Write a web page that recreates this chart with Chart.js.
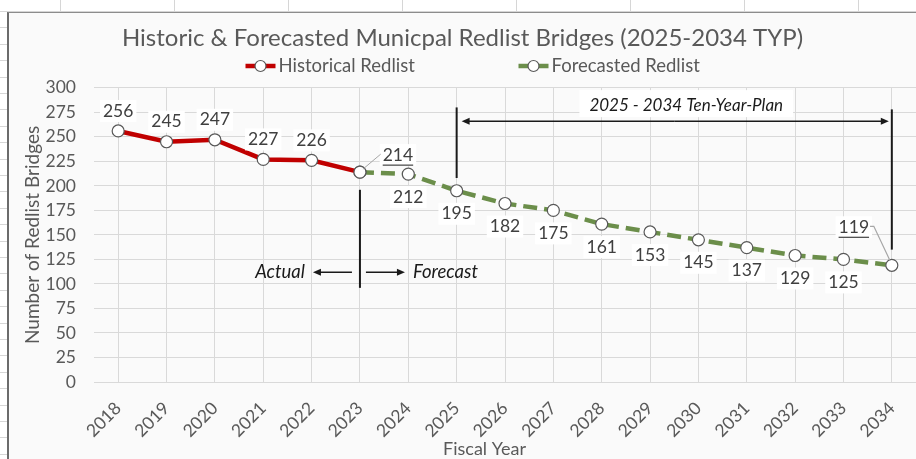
<!DOCTYPE html>
<html>
<head>
<meta charset="utf-8">
<script src="https://cdn.jsdelivr.net/npm/chart.js@4.4.1/dist/chart.umd.min.js"></script>
<style>
  body {
    margin: 0; width: 916px; height: 459px; overflow: hidden; position: relative;
    background-color: #fff;
    background-image:
      repeating-linear-gradient(to right, transparent 0 60px, #d6d6d6 60px 61px, transparent 61px 114px),
      repeating-linear-gradient(to bottom, transparent 0 11px, #d6d6d6 11px 12px, transparent 12px 16.4px);
  }
  #frame {
    position: absolute; left: 7px; top: 12px; width: 909px; height: 447px;
    background: #fafafa; border-left: 2px solid #6b6b6b; border-top: 1px solid #8c8c8c;
    box-sizing: border-box;
  }
</style>
</head>
<body>
<div id="frame"><canvas id="myChart" width="907" height="446"></canvas></div>
<script>
// chart data
var years = ['2018','2019','2020','2021','2022','2023','2024','2025','2026','2027','2028','2029','2030','2031','2032','2033','2034'];
var historical = [256, 245, 247, 227, 226, 214];           // 2018 - 2023
var forecasted = [214, 212, 195, 182, 175, 161, 153, 145, 137, 129, 125, 119]; // 2023 - 2034
var yTicks = [0, 25, 50, 75, 100, 125, 150, 175, 200, 225, 250, 275, 300];

var FONT = 'Lato';
var RED = '#c00000';
var GREEN = '#6b8e4a';

// pad the series out to the full year list
var histData = years.map(function (y, i) { return i < historical.length ? historical[i] : null; });
var foreStart = years.indexOf('2023');
var foreData = years.map(function (y, i) { return i >= foreStart ? forecasted[i - foreStart] : null; });

function drawLabel(ctx, text, cx, cy, underline) {
    ctx.font = '17.5px ' + FONT;
    var w = ctx.measureText(text).width;
    ctx.fillStyle = '#ffffff';
    ctx.fillRect(cx - w / 2 - 3, cy - 11, w + 6, 22);
    ctx.fillStyle = '#404040';
    ctx.textAlign = 'center';
    ctx.textBaseline = 'middle';
    ctx.fillText(text, cx, cy);
    if (underline) {
        ctx.strokeStyle = '#404040';
        ctx.lineWidth = 1.2;
        ctx.beginPath();
        ctx.moveTo(cx - w / 2, cy + 10);
        ctx.lineTo(cx + w / 2, cy + 10);
        ctx.stroke();
    }
    return w;
}

function arrow(ctx, x1, y, x2) {
    var dir = x2 > x1 ? 1 : -1;
    ctx.lineWidth = 1.5;
    ctx.beginPath();
    ctx.moveTo(x1, y);
    ctx.lineTo(x2 - dir * 6, y);
    ctx.stroke();
    ctx.beginPath();
    ctx.moveTo(x2, y);
    ctx.lineTo(x2 - dir * 8, y - 3.5);
    ctx.lineTo(x2 - dir * 8, y + 3.5);
    ctx.closePath();
    ctx.fill();
}

function vline(ctx, x, y1, y2) {
    ctx.lineWidth = 2;
    ctx.beginPath();
    ctx.moveTo(x, y1);
    ctx.lineTo(x, y2);
    ctx.stroke();
}

var overlay = {
    id: 'overlay',
    afterDraw: function (chart) {
        var ctx = chart.ctx;
        var sx = chart.scales.x, sy = chart.scales.y;
        var px = function (i) { return sx.getPixelForValue(i); };
        var py = function (v) { return sy.getPixelForValue(v); };
        ctx.save();

        // legend (line + marker)
        var cx = chart.width / 2;
        var legend = [[cx - 217, RED, 'Historical Redlist'], [cx + 56, GREEN, 'Forecasted Redlist']];
        legend.forEach(function (l) {
            ctx.strokeStyle = l[1];
            ctx.lineWidth = 4.5;
            ctx.beginPath();
            ctx.moveTo(l[0], 53);
            ctx.lineTo(l[0] + 30, 53);
            ctx.stroke();
            ctx.fillStyle = '#fff';
            ctx.strokeStyle = '#595959';
            ctx.lineWidth = 1.2;
            ctx.beginPath();
            ctx.arc(l[0] + 15, 53, 5.5, 0, Math.PI * 2);
            ctx.fill();
            ctx.stroke();
            ctx.fillStyle = '#595959';
            ctx.font = '18.5px ' + FONT;
            ctx.textAlign = 'left';
            ctx.textBaseline = 'middle';
            ctx.fillText(l[2], l[0] + 33, 53);
        });

        // x axis title (Excel puts it a bit left of the plot centre)
        ctx.fillStyle = '#595959';
        ctx.font = '18px ' + FONT;
        ctx.textAlign = 'center';
        ctx.textBaseline = 'middle';
        ctx.fillText('Fiscal Year', cx + 22, chart.height - 10);

        // data labels
        historical.forEach(function (v, i) {
            if (i === historical.length - 1) return;
            drawLabel(ctx, String(v), px(i), py(v) - 20, false);
        });
        forecasted.forEach(function (v, k) {
            var i = foreStart + k;
            if (k === 0 || k === forecasted.length - 1) return;
            drawLabel(ctx, String(v), px(i), py(v) + 23, false);
        });
        // 214 with leader line
        var lastH = historical[historical.length - 1];
        var hx = px(foreStart), hy = py(lastH);
        var w1 = drawLabel(ctx, String(lastH), hx + 38, hy - 17, true);
        ctx.strokeStyle = '#a6a6a6';
        ctx.lineWidth = 1;
        ctx.beginPath();
        ctx.moveTo(hx + 38 - w1 / 2 - 2, hy - 18);
        ctx.lineTo(hx + 3, hy - 3);
        ctx.stroke();
        // 119 with leader line
        var lastI = years.length - 1, lastF = forecasted[forecasted.length - 1];
        var fx = px(lastI), fy = py(lastF);
        var w2 = drawLabel(ctx, String(lastF), fx - 38, fy - 38, true);
        ctx.strokeStyle = '#a6a6a6';
        ctx.beginPath();
        ctx.moveTo(fx - 38 + w2 / 2 + 1, fy - 39);
        ctx.lineTo(fx - 18, fy - 39);
        ctx.lineTo(fx - 2, fy - 5);
        ctx.stroke();

        // annotations
        ctx.strokeStyle = '#1a1a1a';
        ctx.fillStyle = '#1a1a1a';
        var ax = px(years.indexOf('2023'));
        vline(ctx, ax, py(196), py(96));
        var ay = py(112);
        arrow(ctx, ax - 8, ay, ax - 47);
        arrow(ctx, ax + 6, ay, ax + 45);
        ctx.font = 'italic 18.5px ' + FONT;
        ctx.textBaseline = 'middle';
        ctx.textAlign = 'right';
        ctx.fillText('Actual', ax - 55, ay);
        ctx.textAlign = 'left';
        ctx.fillText('Forecast', ax + 53, ay);

        var p1 = px(years.indexOf('2025')), p2 = px(lastI);
        vline(ctx, p1, py(280), py(208));
        vline(ctx, p2, py(278), py(135));
        var dy = py(266);
        arrow(ctx, (p1 + p2) / 2, dy, p1 + 5);
        arrow(ctx, (p1 + p2) / 2, dy, p2 - 3);
        ctx.font = 'italic 17px ' + FONT;
        var txt = '2025 - 2034 Ten-Year-Plan';
        var tw = ctx.measureText(txt).width;
        var tcx = (p1 + p2) / 2 + 12;
        ctx.fillStyle = '#ffffff';
        ctx.fillRect(tcx - tw / 2 - 10, dy - 31, tw + 20, 27);
        ctx.fillStyle = '#1a1a1a';
        ctx.textAlign = 'center';
        ctx.fillText(txt, tcx, dy - 16);

        ctx.restore();
    }
};

var ctx = document.getElementById('myChart').getContext('2d');
var myChart = new Chart(ctx, {
    type: 'line',
    data: {
        labels: years,
        datasets: [{
            label: 'Historical Redlist',
            data: histData,
            borderColor: RED,
            borderWidth: 4.5,
            pointRadius: 6,
            pointBackgroundColor: '#ffffff',
            pointBorderColor: '#595959',
            pointBorderWidth: 1.2,
            tension: 0
        }, {
            label: 'Forecasted Redlist',
            data: foreData,
            borderColor: GREEN,
            borderWidth: 4.5,
            borderDash: [14, 7],
            pointRadius: 6,
            pointBackgroundColor: '#ffffff',
            pointBorderColor: '#595959',
            pointBorderWidth: 1.2,
            tension: 0
        }]
    },
    options: {
        responsive: false,
        animation: false,
        layout: { padding: 0, autoPadding: false },
        plugins: {
            legend: { display: false },
            tooltip: { enabled: false },
            title: {
                display: true,
                text: 'Historic & Forecasted Municpal Redlist Bridges (2025-2034 TYP)',
                color: '#595959',
                font: { family: FONT, size: 24, weight: 'normal' },
                padding: { top: 11, bottom: 35 }
            }
        },
        scales: {
            x: {
                offset: true,
                grid: { offset: false, color: '#d9d9d9', drawTicks: false },
                border: { display: false },
                ticks: { color: '#595959', font: { family: FONT, size: 17.5 }, minRotation: 45, maxRotation: 45, padding: 16 },
                afterFit: function (scale) {
                    scale.height = 77;
                    scale.paddingLeft = 0;
                    scale.paddingRight = 0;
                }
            },
            y: {
                min: 0,
                max: 300,
                afterBuildTicks: function (scale) { scale.ticks = yTicks.map(function (v) { return { value: v }; }); },
                grid: { color: '#d9d9d9', drawTicks: false },
                border: { display: false },
                ticks: { color: '#595959', font: { family: FONT, size: 17.5 }, padding: 18 },
                title: { display: true, text: 'Number of Redlist Bridges', color: '#595959', font: { family: FONT, size: 19 }, padding: { top: 12, bottom: 0 } },
                afterFit: function (scale) { scale.width = 85; }
            }
        }
    },
    plugins: [overlay]
});
</script>
</body>
</html>
